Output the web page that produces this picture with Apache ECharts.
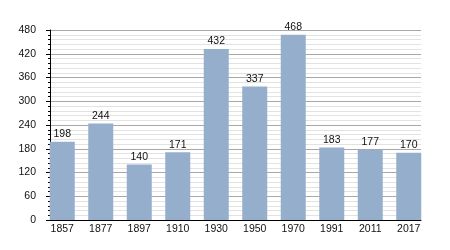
<!DOCTYPE html>
<html><head><meta charset="utf-8">
<script src="https://cdn.jsdelivr.net/npm/echarts@6/dist/echarts.min.js"></script>
<style>html,body{margin:0;padding:0;background:#fff}#c{width:450px;height:250px}</style>
</head><body><div id="c"></div>
<script>
var years = ['1857','1877','1897','1910','1930','1950','1970','1991','2011','2017'];
var population = [198, 244, 140, 171, 432, 337, 468, 183, 177, 170];
var yMin = 0, yMax = 480, yStep = 60;

var font = 'Liberation Sans, Arial, sans-serif';
var chart = echarts.init(document.getElementById('c'), null, {renderer:'canvas'});
chart.setOption({
  backgroundColor: '#fff',
  animation: false,
  grid: [
    {left: 50, right: 29, top: 30, bottom: 30},
    {left: 43, right: 22, top: 30, bottom: 30}
  ],
  xAxis: [
    {gridIndex: 0, type: 'value', min: 0, max: 1, show: true,
     axisLine: {show: true, onZero: false, lineStyle: {color: '#000', width: 1}},
     axisTick: {show: false}, axisLabel: {show: false}, splitLine: {show: false}},
    {gridIndex: 1, type: 'category', data: years,
     axisLine: {show: false}, axisTick: {show: false},
     axisLabel: {color: '#111', fontFamily: font, fontSize: 10.5, margin: 4}}
  ],
  yAxis: [
    {gridIndex: 0, type: 'value', min: yMin, max: yMax, interval: yStep,
     axisLine: {show: true, lineStyle: {color: '#000'}},
     axisTick: {show: true, length: 4, lineStyle: {color: '#000'}},
     minorTick: {show: true, splitNumber: 5, length: 2, lineStyle: {color: '#000'}},
     axisLabel: {color: '#111', fontFamily: font, fontSize: 10.5, margin: 14},
     splitLine: {show: true, lineStyle: {color: '#a8a8a8', width: 1}},
     minorSplitLine: {show: true, lineStyle: {color: '#e2e2e2', width: 1}}},
    {gridIndex: 1, type: 'value', min: yMin, max: yMax, show: false}
  ],
  series: [{
    type: 'bar', xAxisIndex: 1, yAxisIndex: 1, data: population,
    barWidth: 25, itemStyle: {color: '#95aecb'},
    label: {show: true, position: 'top', distance: 2, color: '#111', fontFamily: font, fontSize: 10.5}
  }]
});
</script></body></html>
